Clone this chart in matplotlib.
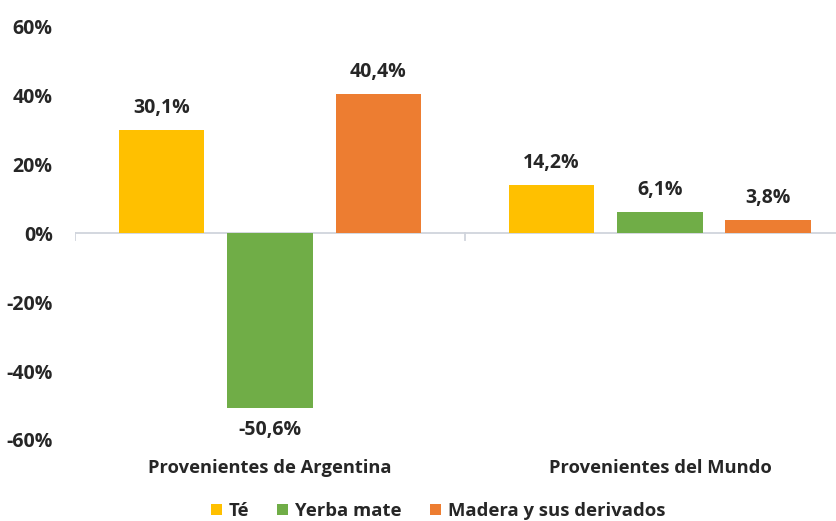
import numpy as np
import matplotlib.pyplot as plt

# Datos
categorias = ["Provenientes de Argentina", "Provenientes del Mundo"]
series = ["Té", "Yerba mate", "Madera y sus derivados"]
te = [30.1, 14.2]
yerba = [-50.6, 6.1]
madera = [40.4, 3.8]
colores = ["#FFC000", "#70AD47", "#ED7D31"]

plt.rcParams['font.family'] = ['Open Sans', 'DejaVu Sans']
plt.rcParams['font.weight'] = 'bold'

fig = plt.figure(figsize=(8.36, 5.21), dpi=100)
ax = fig.add_axes([0.0897, 0.1555, 0.933, 0.7927])

x = np.arange(len(categorias))
ancho = 0.22
paso = 0.278
valores = [te, yerba, madera]

for i, (nombre, vals, c) in enumerate(zip(series, valores, colores)):
    pos = x + (i - 1) * paso
    barras = ax.bar(pos, vals, ancho, color=c, label=nombre, zorder=3)
    for b, v in zip(barras, vals):
        txt = f"{v:.1f}%".replace(".", ",")
        if v >= 0:
            ax.text(b.get_x() + b.get_width() / 2, v + 3.5, txt, ha='center',
                    va='bottom', fontsize=14, fontweight='bold', color='#262626')
        else:
            ax.text(b.get_x() + b.get_width() / 2, v - 3.5, txt, ha='center',
                    va='top', fontsize=14, fontweight='bold', color='#262626')

# eje cero y marcas
ax.axhline(0, color='#D0D4DC', lw=1.3, zorder=2)
for xt in [-0.5, 0.5, 1.5]:
    ax.plot([xt, xt], [0, -2], color='#D0D4DC', lw=1.3, zorder=2)

ax.set_xlim(-0.5, 1.5)
ax.set_ylim(-60, 60)
ax.set_yticks(np.arange(-60, 61, 20))
ax.set_yticklabels([f"{t}%" for t in range(-60, 61, 20)])
ax.set_xticks(x)
ax.set_xticklabels(categorias)
ax.tick_params(axis='y', length=0, pad=16, labelsize=14, labelcolor='#262626')
ax.tick_params(axis='x', length=0, pad=14, labelsize=13.2, labelcolor='#262626')
for s in ax.spines.values():
    s.set_visible(False)

fig.legend(loc='lower center', bbox_to_anchor=(0.524, -0.03), ncol=3, frameon=False,
           fontsize=13.3, handlelength=0.6, handleheight=0.6, handletextpad=0.38,
           columnspacing=1.5, labelcolor='#262626')

fig.savefig("out.png", dpi=100)
